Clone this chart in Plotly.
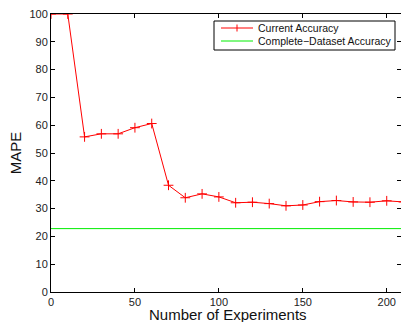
import plotly.graph_objects as go

# Number of experiments run so far and the MAPE of the model at that point
experiments = [0, 10, 20, 30, 40, 50, 60, 70, 80, 90, 100, 110, 120, 130, 140,
               150, 160, 170, 180, 190, 200, 210]
current_mape = [100, 100, 55.8, 56.9, 56.9, 59.1, 60.6, 38.4, 33.9, 35.3, 34.2,
                32.1, 32.3, 31.8, 31.0, 31.3, 32.5, 32.9, 32.4, 32.3, 32.8, 32.4]
complete_dataset_mape = 22.8
x_span = [0, 210]
series_names = ["Current Accuracy", "Complete\u2212Dataset Accuracy"]
series_colors = ["#ff0000", "#00ee00"]

FONT = "Liberation Sans, Arial, Helvetica, sans-serif"

fig = go.Figure()
fig.add_trace(go.Scatter(
    x=experiments, y=current_mape, mode="lines+markers",
    name=series_names[0],
    line=dict(color=series_colors[0], width=1),
    marker=dict(symbol="cross-thin", size=7, line=dict(color=series_colors[0], width=1)),
))
fig.add_trace(go.Scatter(
    x=x_span, y=[complete_dataset_mape] * 2, mode="lines",
    name=series_names[1],
    line=dict(color=series_colors[1], width=1),
))

axis_common = dict(
    showgrid=False, zeroline=False, showline=True, linecolor="black", linewidth=1,
    mirror="ticks", ticks="inside", ticklen=4, tickcolor="black", automargin=False,
    tickfont=dict(family=FONT, size=11, color="#222222"),
)
fig.update_xaxes(range=[0, 208.5], tickvals=[0, 50, 100, 150, 200], **axis_common)
fig.update_yaxes(range=[0, 100], tickvals=list(range(0, 101, 10)),
                 title=dict(text="MAPE", standoff=4,
                            font=dict(family=FONT, size=15, color="#111111")),
                 **axis_common)

L, T, W, H = 51, 14, 350, 278  # plot area in pixels


def px(x):
    return (x - L) / W


def py(y):
    return (T + H - y) / H


# x-axis title sits low, right at the bottom edge
fig.add_annotation(xref="paper", yref="paper", x=px(228), y=py(304),
                   text="Number of Experiments", showarrow=False,
                   xanchor="center", yanchor="top",
                   font=dict(family=FONT, size=15, color="#111111"))

# Compact boxed legend in the upper right of the plot area
fig.add_shape(type="rect", xref="paper", yref="paper",
              x0=px(214), x1=px(395), y0=py(50), y1=py(21),
              line=dict(color="black", width=1), fillcolor="white", layer="above")
rows = [28, 41]
for name, color, row in zip(series_names, series_colors, rows):
    fig.add_shape(type="line", xref="paper", yref="paper",
                  x0=px(221), x1=px(253), y0=py(row), y1=py(row),
                  line=dict(color=color, width=1), layer="above")
    fig.add_annotation(xref="paper", yref="paper", x=px(256), y=py(row),
                       text=name, showarrow=False, xanchor="left", yanchor="middle",
                       font=dict(family=FONT, size=10.5, color="#111111"))
# '+' marker on the first legend entry
fig.add_shape(type="line", xref="paper", yref="paper",
              x0=px(237), x1=px(237), y0=py(rows[0] - 3.5), y1=py(rows[0] + 3.5),
              line=dict(color=series_colors[0], width=1), layer="above")

fig.update_layout(
    width=401, height=322,
    margin=dict(l=L, r=401 - L - W, t=T, b=322 - T - H),
    plot_bgcolor="white", paper_bgcolor="white",
    showlegend=False,
)

fig.write_html("out.html")
